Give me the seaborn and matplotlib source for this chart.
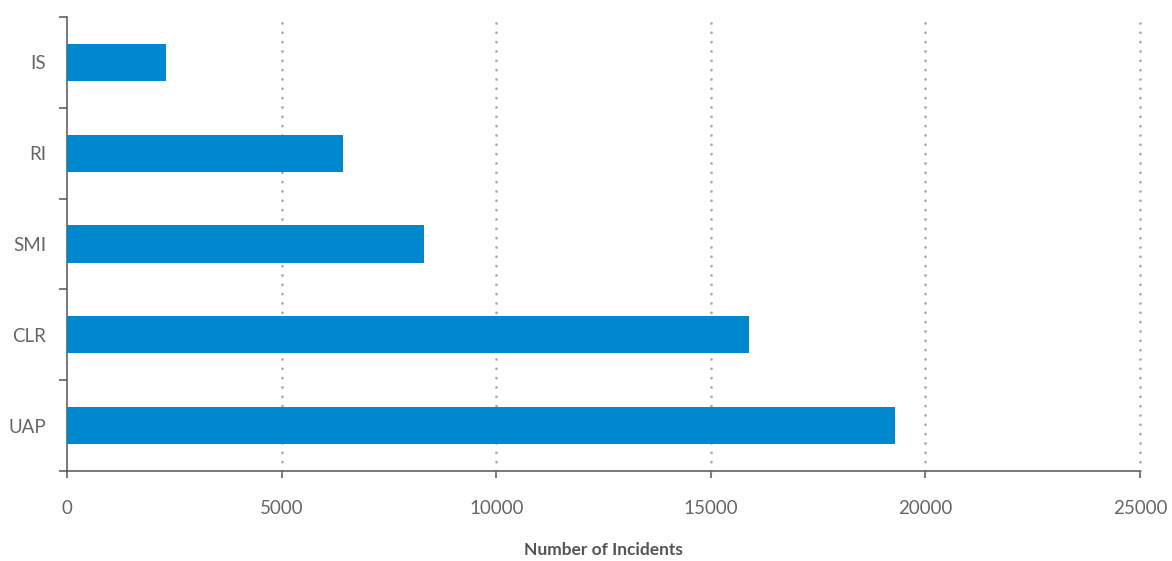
import numpy as np
import pandas as pd
import matplotlib.pyplot as plt
import seaborn as sns

# data
categories = ["IS", "RI", "SMI", "CLR", "UAP"]
incidents = [2300, 6440, 8320, 15890, 19290]
x_ticks = [0, 5000, 10000, 15000, 20000, 25000]

df = pd.DataFrame({"category": categories, "incidents": incidents})

sns.set_theme(style="white")
plt.rcParams["font.family"] = ["Lato", "DejaVu Sans"]

fig = plt.figure(figsize=(11.72, 5.61), dpi=100)
ax = fig.add_axes([67 / 1172, 1 - 471 / 561, (1140 - 67) / 1172, (471 - 17) / 561])

sns.barplot(data=df, x="incidents", y="category", order=categories,
            color="#0088CE", saturation=1, width=0.41, linewidth=0,
            ax=ax, zorder=3)

ax.set_xlim(0, 25000)
ax.set_ylim(len(categories) - 0.5, -0.5)
ax.set_xticks(x_ticks)
ax.set_xticklabels([str(t) for t in x_ticks])

# dotted vertical grid
ax.grid(False)
for t in x_ticks[1:]:
    ax.axvline(t, color="#a8a8a8", lw=2.0, linestyle=(0, (0.01, 3.35)),
               dash_capstyle="round", zorder=1, clip_on=False)

# spines
for s in ["top", "right"]:
    ax.spines[s].set_visible(False)
for s in ["left", "bottom"]:
    ax.spines[s].set_color("#555555")
    ax.spines[s].set_linewidth(1.1)

# y ticks: labels at centers, tick marks at boundaries
ax.set_yticks(np.arange(-0.5, len(categories), 1.0), minor=True)
ax.tick_params(axis="y", which="major", length=0, pad=15,
               labelsize=13.5, labelcolor="#666666")
ax.tick_params(axis="y", which="minor", length=6, width=1.1,
               color="#555555", direction="out", left=True)
ax.tick_params(axis="x", which="major", length=5, width=1.1,
               color="#555555", direction="out", bottom=True, pad=16,
               labelsize=13.5, labelcolor="#666666")

ax.set_ylabel("")
ax.set_xlabel("Number of Incidents", fontsize=12.5, fontweight="bold",
              color="#555555", labelpad=18)

fig.savefig("out.png", dpi=100)
